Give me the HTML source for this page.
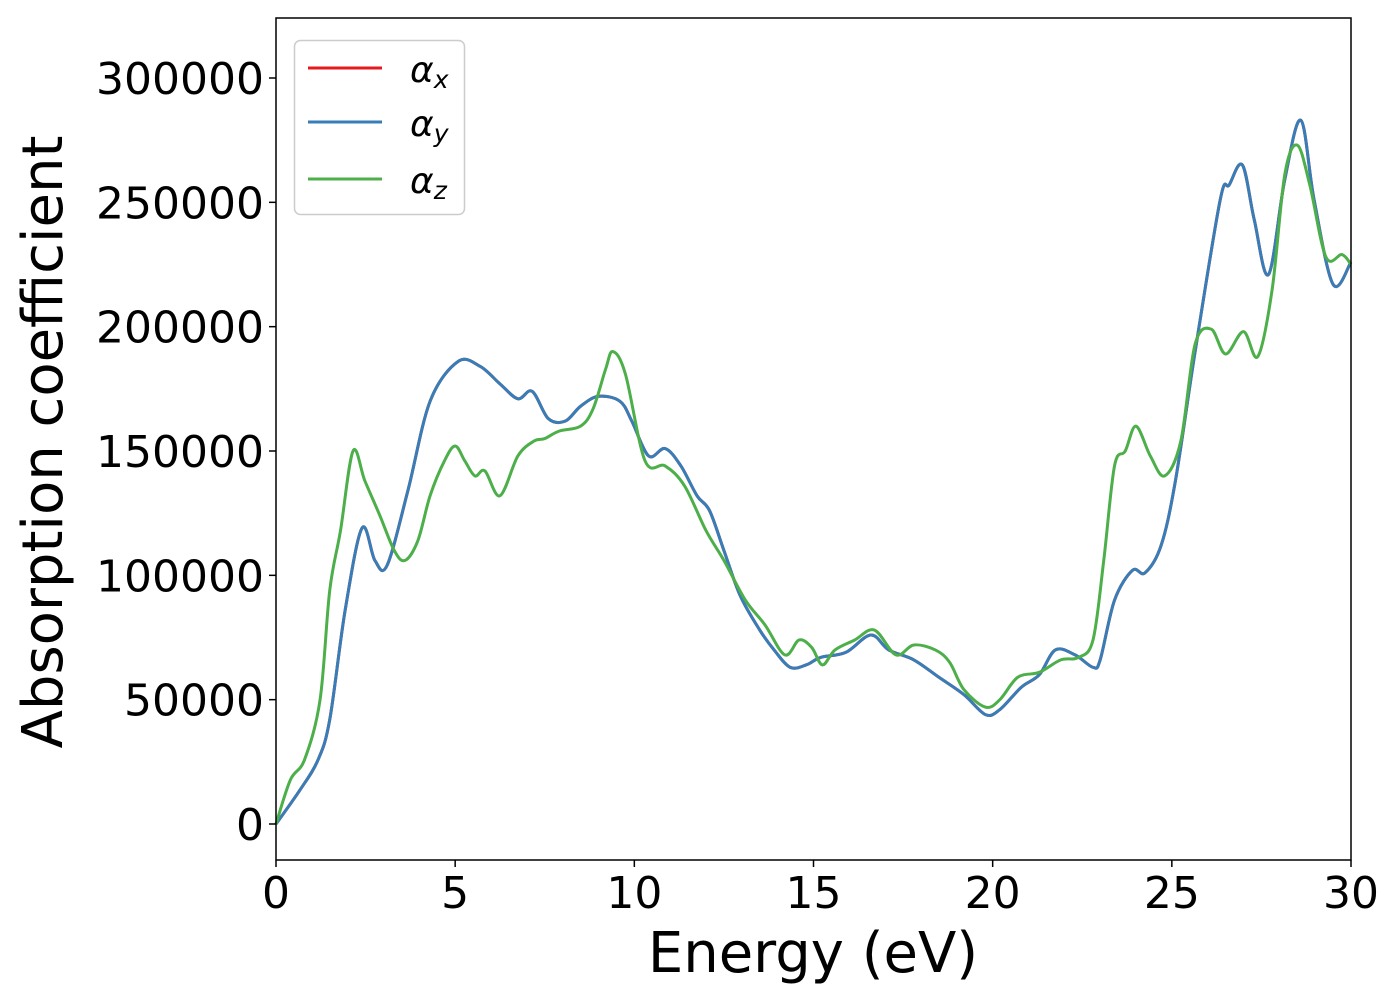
<!DOCTYPE html>
<html><head><meta charset="utf-8"><style>
html,body{margin:0;padding:0;background:#fff;}
svg{display:block;font-family:"DejaVu Sans","Liberation Sans",sans-serif;}
</style></head><body>
<svg id="chart" width="1400" height="1000" viewBox="0 0 1400 1000" xmlns="http://www.w3.org/2000/svg">
<rect x="0" y="0" width="1400" height="1000" fill="#fff"/>
<g id="plot"></g>
<g id="axes"></g>
<text x="813" y="972" font-size="56" text-anchor="middle">Energy (eV)</text>
<text transform="translate(62,442) rotate(-90)" font-size="56" text-anchor="middle">Absorption coefficient</text>
<g>
<rect x="294.5" y="40.5" width="170" height="174" rx="6" fill="#fff" stroke="#ccc" stroke-width="1.5"/>
<g><line x1="308" y1="68" x2="382" y2="68" stroke="#e41a1c" stroke-width="3"/><text x="410" y="82" font-size="36" font-style="italic">α<tspan font-size="25" dy="6">x</tspan></text></g>
<g><line x1="308" y1="122" x2="382" y2="122" stroke="#377eb8" stroke-width="3"/><text x="410" y="136" font-size="36" font-style="italic">α<tspan font-size="25" dy="6">y</tspan></text></g>
<g><line x1="308" y1="179" x2="382" y2="179" stroke="#4daf4a" stroke-width="3"/><text x="410" y="193" font-size="36" font-style="italic">α<tspan font-size="25" dy="6">z</tspan></text></g>
</g>
</svg>
<script>
const energyXY = [0,0.67,1.17,1.5,1.93,2.4,2.76,3.1,3.68,4.3,5.08,5.7,6.25,6.75,7.15,7.6,8.07,8.5,9.0,9.6,9.93,10.4,10.86,11.3,11.75,12.1,12.5,12.95,13.5,13.9,14.35,14.8,15.2,15.9,16.6,17.1,17.8,18.5,19.2,19.8,20.2,20.8,21.3,21.75,22.3,22.8,23.0,23.4,23.9,24.25,24.7,25.1,25.65,26.35,26.6,26.97,27.3,27.7,28.15,28.6,28.97,29.5,30];
const alphaY = [0,13.7,25.7,42,86,119,106,104,134,170,186,184,177,171,174,163,162,168,172,170,162,148,151,144,132,126,110,92,78,70,63,64,67,69,76,70,66,59,52,44,46,55,60,70,68,63,66,90,102,101,112,138,190,251,257,265,243,221,259,283,251,217,226];
const alphaX = alphaY.slice();
const energyZ = [0,0.4,0.8,1.23,1.5,1.8,2.15,2.48,2.9,3.3,3.6,3.96,4.3,4.7,5.0,5.27,5.55,5.83,6.25,6.75,7.2,7.5,7.9,8.5,8.85,9.2,9.4,9.75,10.3,10.86,11.4,12.0,12.5,13.1,13.65,14.2,14.6,14.95,15.25,15.6,16.15,16.7,17.3,17.8,18.4,18.8,19.2,19.8,20.2,20.7,21.3,21.9,22.4,22.8,23.1,23.4,23.7,24.0,24.4,24.8,25.25,25.65,26.1,26.5,27.0,27.4,27.8,28.15,28.5,28.85,29.3,29.75,30];
const alphaZ = [0,17.7,26,50,94,118,150,138,124,110,106,114,132,146,152,146,140,142,132,148,154,155,158,160,167,183,190,181,146,144,136,118,106,90,80,68,74,71,64,70,74,78,68,72,70,65,54,47,50,59,61,66,67,74,106,144,150,160,148,140,154,193,199,189,198,188,215,261,273,257,228,229,225];
const xTicks = [0,5,10,15,20,25,30];
const yTicks = [0,50000,100000,150000,200000,250000,300000];

const NS="http://www.w3.org/2000/svg";
const X0=276,X1=1351,YT=18,YB=860;
const sx=v=>X0+(v/30)*(X1-X0);
const sy=v=>824-v*(746/300000);
function pathFor(xs,ys){
  const p=xs.map((x,i)=>[sx(x),sy(ys[i]*1000)]);
  let d="M"+p[0][0]+","+p[0][1];
  for(let i=0;i<p.length-1;i++){
    const a=p[i-1]||p[i],b=p[i],c=p[i+1],e=p[i+2]||c;
    const c1=[b[0]+(c[0]-a[0])/6,b[1]+(c[1]-a[1])/6];
    const c2=[c[0]-(e[0]-b[0])/6,c[1]-(e[1]-b[1])/6];
    d+=" C"+c1[0]+","+c1[1]+" "+c2[0]+","+c2[1]+" "+c[0]+","+c[1];
  }
  return d;
}
const plot=document.getElementById("plot");
const series=[[energyXY,alphaX,"#e41a1c","series-alpha-x"],[energyXY,alphaY,"#377eb8","series-alpha-y"],[energyZ,alphaZ,"#4daf4a","series-alpha-z"]];
series.forEach(s=>{
  const el=document.createElementNS(NS,"path");
  el.setAttribute("d",pathFor(s[0],s[1]));
  el.setAttribute("fill","none");el.setAttribute("stroke",s[2]);el.setAttribute("stroke-width","3");
  
  
  plot.appendChild(el);
});
const axes=document.getElementById("axes");
const frame=document.createElementNS(NS,"rect");
frame.setAttribute("x",X0);frame.setAttribute("y",YT);frame.setAttribute("width",X1-X0);frame.setAttribute("height",YB-YT);
frame.setAttribute("fill","none");frame.setAttribute("stroke","#000");frame.setAttribute("stroke-width","1.5");


axes.appendChild(frame);
xTicks.forEach(t=>{
  const l=document.createElementNS(NS,"line");
  l.setAttribute("x1",sx(t));l.setAttribute("x2",sx(t));l.setAttribute("y1",YB);l.setAttribute("y2",YB+7);l.setAttribute("stroke","#000");l.setAttribute("stroke-width","1.5");
  
  
  axes.appendChild(l);
  const tx=document.createElementNS(NS,"text");
  tx.setAttribute("x",sx(t));tx.setAttribute("y",908);tx.setAttribute("font-size","44");tx.setAttribute("text-anchor","middle");
  tx.textContent=t;
  
  
  axes.appendChild(tx);
});
yTicks.forEach(t=>{
  const l=document.createElementNS(NS,"line");
  l.setAttribute("x1",X0-7);l.setAttribute("x2",X0);l.setAttribute("y1",sy(t));l.setAttribute("y2",sy(t));l.setAttribute("stroke","#000");l.setAttribute("stroke-width","1.5");
  
  
  axes.appendChild(l);
  const tx=document.createElementNS(NS,"text");
  tx.setAttribute("x",X0-12);tx.setAttribute("y",sy(t)+16);tx.setAttribute("font-size","44");tx.setAttribute("text-anchor","end");
  tx.textContent=t;
  
  
  axes.appendChild(tx);
});
</script>
</body></html>
